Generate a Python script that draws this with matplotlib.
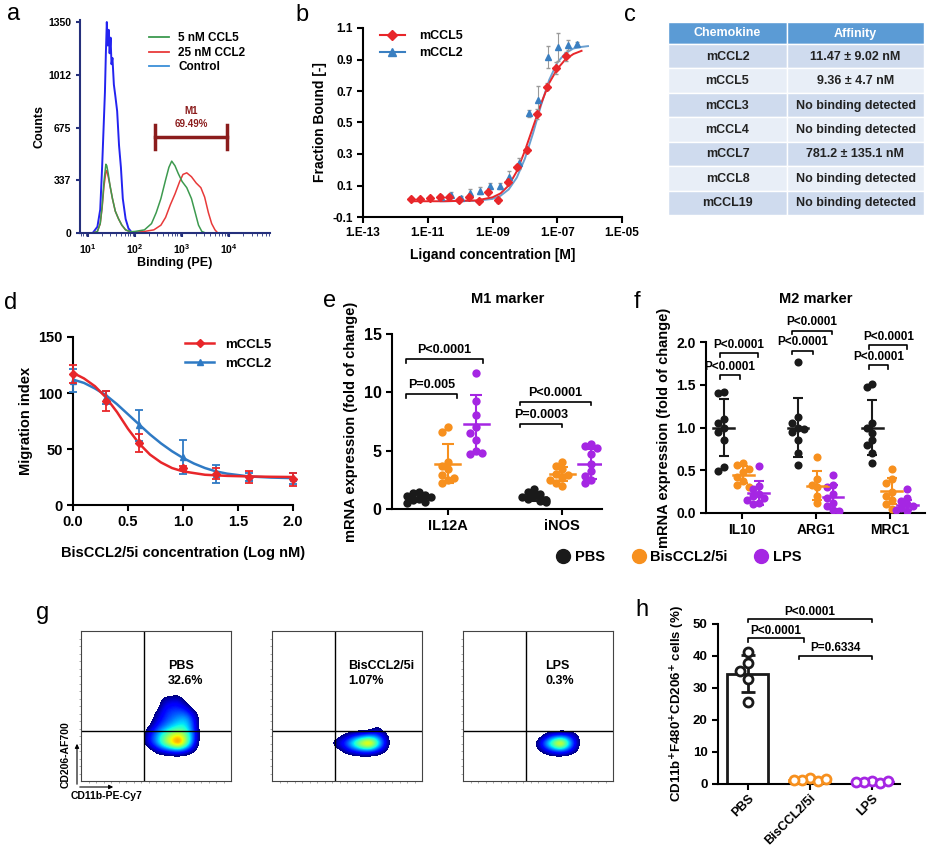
import numpy as np
import matplotlib
matplotlib.use('Agg')
import matplotlib.pyplot as plt
import matplotlib.ticker as mticker
from matplotlib.lines import Line2D
from matplotlib.patches import Rectangle

# ---------------- a: binding histograms (log10 of PE, counts) ----------------
ctrl_logx = [1.10, 1.20, 1.26, 1.30, 1.33, 1.36, 1.38, 1.40, 1.42, 1.44, 1.46, 1.48, 1.50,
             1.52, 1.55, 1.58, 1.62, 1.66, 1.70, 1.74, 1.80, 1.86, 1.94, 2.05]
ctrl_counts = [0, 40, 150, 420, 660, 900, 1150, 1350, 1200, 1300, 1150, 1250, 1080,
               1120, 950, 880, 780, 560, 420, 220, 90, 30, 0, 0]
ccl5_logx = [1.10, 1.20, 1.26, 1.30, 1.34, 1.38, 1.40, 1.43, 1.47, 1.52, 1.58, 1.65, 1.72,
             1.80, 1.90, 2.00, 2.20, 2.35, 2.45, 2.55, 2.65, 2.72, 2.78, 2.85, 2.92, 3.00,
             3.10, 3.20, 3.28, 3.35, 3.42, 3.50]
ccl5_counts = [0, 10, 60, 170, 330, 440, 430, 380, 300, 220, 140, 90, 50,
               20, 8, 10, 20, 60, 130, 220, 340, 420, 460, 430, 380, 330,
               290, 220, 130, 50, 10, 0]
ccl2_logx = [1.10, 1.20, 1.26, 1.30, 1.34, 1.38, 1.40, 1.43, 1.47, 1.52, 1.58, 1.65, 1.72,
             1.80, 1.90, 2.00, 2.20, 2.40, 2.55, 2.65, 2.75, 2.85, 2.95, 3.02, 3.10, 3.20,
             3.30, 3.40, 3.48, 3.56, 3.63, 3.70, 3.76]
ccl2_counts = [0, 10, 60, 160, 300, 390, 400, 360, 300, 220, 140, 90, 50,
               20, 8, 5, 10, 20, 50, 100, 180, 250, 330, 375, 385, 360,
               320, 290, 230, 130, 60, 20, 0]
a_yticks = [0, 337, 675, 1012, 1350]
m1_gate = [270, 9000]
m1_level = 614

# ---------------- b: MST binding ----------------
mccl5_b_logc = [-11.53, -11.23, -10.93, -10.63, -10.33, -10.03, -9.73, -9.43, -9.13,
                -8.83, -8.53, -8.23, -7.93, -7.63, -7.33, -7.03, -6.73]
mccl5_b_fb = [0.015, 0.012, 0.02, 0.03, 0.027, 0.01, 0.027, 0.004, 0.057,
              0.01, 0.123, 0.218, 0.327, 0.554, 0.728, 0.847, 0.92]
mccl5_b_err = [0.01, 0.01, 0.015, 0.01, 0.01, 0.01, 0.015, 0.01, 0.01,
               0.02, 0.02, 0.015, 0.02, 0.03, 0.02, 0.04, 0.03]
mccl2_b_logc = [-10.58, -10.28, -9.98, -9.68, -9.38, -9.08, -8.78, -8.48, -8.18,
                -7.88, -7.58, -7.28, -6.98, -6.68, -6.38]
mccl2_b_fb = [0.027, 0.042, 0.021, 0.055, 0.068, 0.097, 0.097, 0.155, 0.24,
              0.558, 0.643, 0.915, 0.979, 0.992, 0.998]
mccl2_b_err = [0.01, 0.015, 0.01, 0.025, 0.02, 0.02, 0.02, 0.035, 0.035,
               0.02, 0.09, 0.07, 0.09, 0.03, 0.01]
mccl5_fit_logc = [-11.5, -10.5, -9.5, -9.0, -8.75, -8.5, -8.25, -8.0, -7.75, -7.5,
                  -7.25, -7.0, -6.75, -6.5, -6.25]
mccl5_fit_fb = [0.0, 0.0, 0.005, 0.025, 0.05, 0.10, 0.19, 0.32, 0.47, 0.62,
                0.75, 0.84, 0.90, 0.935, 0.955]
mccl2_fit_logc = [-10.6, -9.5, -9.0, -8.75, -8.5, -8.25, -8.0, -7.75, -7.5, -7.25,
                  -7.0, -6.75, -6.5, -6.25, -6.05]
mccl2_fit_fb = [0.0, 0.003, 0.015, 0.035, 0.075, 0.15, 0.27, 0.43, 0.61, 0.77,
                0.88, 0.94, 0.97, 0.98, 0.985]

# ---------------- c: affinity table ----------------
chemokines = ['mCCL2', 'mCCL5', 'mCCL3', 'mCCL4', 'mCCL7', 'mCCL8', 'mCCL19']
affinities = ['11.47 ± 9.02 nM', '9.36 ± 4.7 nM', 'No binding detected', 'No binding detected',
              '781.2 ± 135.1 nM', 'No binding detected', 'No binding detected']

# ---------------- d: migration ----------------
d_conc = [0.0, 0.3, 0.6, 1.0, 1.3, 1.6, 2.0]
mccl5_mig = [117, 93, 55, 33, 28, 25, 23]
mccl5_mig_err = [8, 9, 8, 2, 5, 5, 6]
mccl2_mig = [111, 96, 71, 43, 28, 25, 24]
mccl2_mig_err = [10, 6, 14, 15, 8, 4, 5]
d_fit_conc = [0.0, 0.1, 0.2, 0.3, 0.4, 0.5, 0.6, 0.7, 0.8, 0.9, 1.0, 1.1, 1.2, 1.3,
              1.4, 1.6, 1.8, 2.0]
mccl5_fit_mig = [118, 113, 106, 96, 83, 68, 55, 45, 38, 33, 30, 28.5, 27, 26.5,
                 26, 25.5, 25.2, 25]
mccl2_fit_mig = [112, 109, 104, 98, 90, 81, 72, 63, 55, 48, 42, 37, 33, 30,
                 28, 25.5, 24.5, 24]

# ---------------- e: M1 markers ----------------
m1_genes = ['IL12A', 'iNOS']
m1_pbs = [[1.5, 1.4, 1.2, 1.1, 1.0, 0.9, 0.8, 0.6, 0.5],
          [1.7, 1.5, 1.3, 1.1, 1.0, 0.9, 0.7, 0.6, 0.8]]
m1_bis = [[7.0, 6.6, 4.0, 3.7, 3.4, 2.9, 2.5, 2.2, 2.7],
          [4.0, 3.7, 3.4, 3.0, 2.9, 2.7, 2.5, 2.2, 2.0]]
m1_lps = [[11.7, 9.3, 8.1, 7.0, 6.5, 5.9, 5.0, 4.7, 4.8],
          [5.6, 5.4, 5.2, 4.7, 3.9, 3.3, 2.8, 2.5, 2.2]]
m1_mean = [[1.0, 3.9, 7.25], [1.0, 3.0, 3.85]]
m1_sd = [[0.35, 1.7, 2.5], [0.35, 0.6, 1.3]]

# ---------------- f: M2 markers ----------------
m2_genes = ['IL10', 'ARG1', 'MRC1']
m2_pbs = [[1.42, 1.40, 1.10, 1.05, 1.0, 0.95, 0.85, 0.54, 0.49],
          [1.77, 1.12, 1.05, 1.0, 0.98, 0.95, 0.85, 0.70, 0.56],
          [1.51, 1.47, 1.05, 1.0, 0.93, 0.85, 0.80, 0.70, 0.58]]
m2_bis = [[0.58, 0.56, 0.52, 0.48, 0.42, 0.37, 0.33, 0.30],
          [0.65, 0.40, 0.33, 0.30, 0.20, 0.12],
          [0.52, 0.40, 0.35, 0.25, 0.20, 0.15, 0.10, 0.05]]
m2_lps = [[0.55, 0.32, 0.28, 0.22, 0.20, 0.18, 0.15, 0.12, 0.10],
          [0.45, 0.33, 0.30, 0.22, 0.18, 0.12, 0.08, 0.03, 0.02],
          [0.28, 0.18, 0.14, 0.10, 0.08, 0.06, 0.04, 0.02]]
m2_mean = [[1.0, 0.45, 0.23], [1.0, 0.32, 0.19], [1.0, 0.26, 0.09]]
m2_sd = [[0.33, 0.10, 0.14], [0.34, 0.17, 0.14], [0.32, 0.15, 0.06]]

# ---------------- g: flow density (rows y=60..15, cols x=35..80) ----------------
g_names = ['PBS', 'BisCCL2/5i', 'LPS']
g_pct = ['32.6%', '1.07%', '0.3%']
pbs_density = [[0, 0, 0, 0, 0, 0, 0, 0, 0, 0],
               [0, 0, 0, 0, 0.1, 0.12, 0.15, 0, 0, 0],
               [0, 0, 0, 0, 0.18, 0.22, 0.22, 0.15, 0, 0],
               [0, 0, 0, 0.1, 0.22, 0.28, 0.3, 0.3, 0.15, 0],
               [0, 0, 0, 0.15, 0.25, 0.32, 0.4, 0.42, 0.25, 0],
               [0, 0, 0.1, 0.25, 0.35, 0.45, 0.5, 0.48, 0.25, 0],
               [0, 0, 0.2, 0.35, 0.55, 0.7, 0.8, 0.6, 0.3, 0],
               [0, 0, 0.2, 0.35, 0.6, 0.8, 1.0, 0.65, 0.25, 0],
               [0, 0, 0, 0.12, 0.2, 0.25, 0.28, 0.2, 0.1, 0],
               [0, 0, 0, 0, 0, 0, 0, 0, 0, 0]]
bis_density = [[0] * 10, [0] * 10, [0] * 10, [0] * 10, [0] * 10,
               [0, 0, 0, 0, 0, 0, 0, 0.12, 0, 0],
               [0, 0, 0.05, 0.12, 0.2, 0.25, 0.3, 0.28, 0.15, 0],
               [0, 0.1, 0.2, 0.35, 0.6, 0.85, 1.0, 0.6, 0.25, 0],
               [0, 0, 0.05, 0.15, 0.22, 0.28, 0.28, 0.2, 0.1, 0],
               [0] * 10]
lps_density = [[0] * 10, [0] * 10, [0] * 10, [0] * 10, [0] * 10, [0] * 10,
               [0, 0, 0, 0, 0.12, 0.2, 0.22, 0.22, 0.12, 0],
               [0, 0, 0, 0.15, 0.4, 0.7, 1.0, 0.55, 0.2, 0],
               [0, 0, 0, 0.05, 0.15, 0.25, 0.28, 0.22, 0.1, 0],
               [0] * 10]

# ---------------- h: CD206+ macrophages ----------------
h_groups = ['PBS', 'BisCCL2/5i', 'LPS']
h_points = [[41.3, 37.7, 35.3, 32.7, 25.5],
            [1.8, 1.2, 1.0, 1.3, 1.5],
            [0.9, 0.5, 0.2, 0.5, 0.9]]
h_mean = [34.5, 1.3, 0.6]
h_sd = [5.9, 0.3, 0.3]

# colours
RED = '#e8262a'
BLUE = '#3a7fc1'
BLK = '#1a1a1a'
ORG = '#f7901e'
PUR = '#a526e3'
treat_cols = [BLK, ORG, PUR]

plt.rcParams['font.family'] = ['Liberation Sans', 'DejaVu Sans']
plt.rcParams['font.weight'] = 'bold'
plt.rcParams['axes.labelweight'] = 'bold'
plt.rcParams['axes.linewidth'] = 1.5
plt.rcParams['xtick.major.width'] = 1.5
plt.rcParams['ytick.major.width'] = 1.5
plt.rcParams['mathtext.default'] = 'bf'

W, H = 931, 848
fig = plt.figure(figsize=(W / 100, H / 100), dpi=100)


def add_ax(l, t, r, b):
    return fig.add_axes([l / W, 1 - b / H, (r - l) / W, (b - t) / H])


def clean(ax):
    ax.spines['top'].set_visible(False)
    ax.spines['right'].set_visible(False)


def swarm(vals, xpx, ypx, step):
    # simple beeswarm: offsets in data units so dots do not pile up exactly
    placed, offs = [], []
    for v in vals:
        dx = 0
        for k in [0, -1, 1, -2, 2]:
            dx = k * step
            if all((dx - p) ** 2 + ((v - pv) * ypx) ** 2 >= step ** 2 for p, pv in placed):
                break
        placed.append((dx, v))
        offs.append(dx / xpx)
    return np.array(offs)


def bracket(ax, x1, x2, y, drop, text, fs, gap):
    ax.plot([x1, x1, x2, x2], [y - drop, y, y, y - drop], color='black', lw=1.2, clip_on=False)
    ax.text((x1 + x2) / 2, y + gap, text, ha='center', va='bottom', fontsize=fs,
            fontweight='bold')


# ===== a =====
NAVY = '#25307c'
ax = add_ax(80, 20, 270, 233)
ax.set_xscale('log')
ax.plot(10 ** np.array(ctrl_logx), ctrl_counts, color='#2323f0', lw=1.4)
ax.plot(10 ** np.array(ccl2_logx), ccl2_counts, color='#e83a3a', lw=1.1)
ax.plot(10 ** np.array(ccl5_logx), ccl5_counts, color='#3d9a4f', lw=1.1)
ax.set_xlim(10 ** 0.83, 10 ** 4.87)
ax.set_ylim(0, 1363)
ax.set_yticks(a_yticks)
clean(ax)
for s in ['left', 'bottom']:
    ax.spines[s].set_color(NAVY)
ax.tick_params(colors=NAVY, labelcolor='black', labelsize=7.5, length=3)
ax.tick_params(axis='x', which='minor', colors=NAVY, length=2)
ax.plot(m1_gate, [m1_level, m1_level], color='#8b1c1c', lw=2.5)
for gx in m1_gate:
    ax.plot([gx, gx], [m1_level - 75, m1_level + 75], color='#8b1c1c', lw=2.5)
gmid = np.sqrt(m1_gate[0] * m1_gate[1])
ax.text(gmid, 780, 'M1', color='#8b1c1c', fontsize=7, ha='center', va='center')
ax.text(gmid, 700, '69.49%', color='#8b1c1c', fontsize=7, ha='center', va='center')
a_handles = [Line2D([], [], color='#3d9a4f', lw=1.3), Line2D([], [], color='#e83a3a', lw=1.3),
             Line2D([], [], color='#3a8fd8', lw=1.3)]
ax.legend(a_handles, ['5 nM CCL5', '25 nM CCL2', 'Control'], loc='upper left',
          bbox_to_anchor=(0.33, 0.97), frameon=False, fontsize=8.5, handlelength=1.7,
          handletextpad=0.8, labelspacing=0.2, borderpad=0)
ax.set_ylabel('Counts', fontsize=9, labelpad=2)
ax.set_xlabel('Binding (PE)', fontsize=9, labelpad=1)

# ===== b =====
ax = add_ax(363, 28, 622, 217)
ax.set_xscale('log')
ax.errorbar(10 ** np.array(mccl2_b_logc), mccl2_b_fb, yerr=mccl2_b_err, fmt='^', color=BLUE,
            ms=5, ecolor='#9a9a9a', elinewidth=0.8, capsize=1.5, zorder=3)
ax.errorbar(10 ** np.array(mccl5_b_logc), mccl5_b_fb, yerr=mccl5_b_err, fmt='D', color=RED,
            ms=4, ecolor='#9a9a9a', elinewidth=0.8, capsize=1.5, zorder=3)
ax.plot(10 ** np.array(mccl2_fit_logc), mccl2_fit_fb, color='#6a9fd0', lw=1.4)
ax.plot(10 ** np.array(mccl5_fit_logc), mccl5_fit_fb, color=RED, lw=1.4)
ax.set_xlim(1e-13, 1e-5)
ax.set_ylim(-0.1, 1.1)
ax.set_xticks([1e-13, 1e-11, 1e-9, 1e-7, 1e-5])
ax.set_xticklabels(['1.E-13', '1.E-11', '1.E-09', '1.E-07', '1.E-05'])
ax.xaxis.set_minor_locator(mticker.NullLocator())
ax.set_yticks(np.arange(-0.1, 1.11, 0.2))
ax.yaxis.set_major_formatter(mticker.FormatStrFormatter('%.1f'))
ax.tick_params(labelsize=8.5, length=4)
clean(ax)
b_handles = [Line2D([], [], color=RED, marker='D', ms=5), Line2D([], [], color=BLUE, marker='^', ms=6)]
ax.legend(b_handles, ['mCCL5', 'mCCL2'], loc='upper left', bbox_to_anchor=(0.04, 1.02),
          frameon=False, fontsize=9, handlelength=2.0, handletextpad=1.2, labelspacing=0.4,
          borderpad=0)
ax.set_ylabel('Fraction Bound [-]', fontsize=10)
ax.set_xlabel('Ligand concentration [M]', fontsize=10, labelpad=6)

# ===== c =====
ax = add_ax(668, 22, 924, 215)
ax.set_xlim(0, 256)
ax.set_ylim(193, 0)
ax.axis('off')
col_w = [119, 137]
head_h = 22
row_h = (193 - head_h) / len(chemokines)
xs = [0, col_w[0]]
for j, lab in enumerate(['Chemokine', 'Affinity']):
    ax.add_patch(Rectangle((xs[j], 0), col_w[j], head_h, fc='#5b9bd5', ec='white', lw=1))
    ax.text(xs[j] + col_w[j] / 2, head_h / 2 + 0.5, lab, color='white', fontsize=9,
            ha='center', va='center')
for i, (ck, af) in enumerate(zip(chemokines, affinities)):
    y0 = head_h + i * row_h
    fc = '#cfdbee' if i % 2 == 0 else '#e8eef7'
    for j, txt in enumerate([ck, af]):
        ax.add_patch(Rectangle((xs[j], y0), col_w[j], row_h, fc=fc, ec='white', lw=1))
        ax.text(xs[j] + col_w[j] / 2, y0 + row_h / 2 + 0.5, txt, color='#222222', fontsize=9,
                ha='center', va='center')

# ===== d =====
ax = add_ax(73, 337, 293, 505)
ax.plot(d_fit_conc, mccl2_fit_mig, color='#2f7ac4', lw=1.8)
ax.plot(d_fit_conc, mccl5_fit_mig, color=RED, lw=1.8)
ax.errorbar(d_conc, mccl2_mig, yerr=mccl2_mig_err, fmt='^', color='#2f7ac4', ms=5,
            capsize=3, elinewidth=1.3, capthick=1.3, clip_on=False, zorder=3)
ax.errorbar(d_conc, mccl5_mig, yerr=mccl5_mig_err, fmt='D', color=RED, ms=4,
            capsize=3, elinewidth=1.3, capthick=1.3, clip_on=False, zorder=4)
ax.set_xlim(0, 2)
ax.set_ylim(0, 150)
ax.set_xticks([0, 0.5, 1.0, 1.5, 2.0])
ax.xaxis.set_major_formatter(mticker.FormatStrFormatter('%.1f'))
ax.set_yticks([0, 50, 100, 150])
ax.tick_params(labelsize=10.5, length=4)
clean(ax)
d_handles = [Line2D([], [], color=RED, marker='D', ms=4.5, lw=1.8),
             Line2D([], [], color='#2f7ac4', marker='^', ms=5, lw=1.8)]
ax.legend(d_handles, ['mCCL5', 'mCCL2'], loc='upper left', bbox_to_anchor=(0.48, 1.03),
          frameon=False, fontsize=9.5, handlelength=2.2, handletextpad=0.8, labelspacing=0.5,
          borderpad=0)
ax.set_ylabel('Migration index', fontsize=10.5)
ax.set_xlabel('BisCCL2/5i concentration (Log nM)', fontsize=10.5, labelpad=12)

# ===== e =====
ax = add_ax(392, 334, 602, 509)
offs3 = [-0.25, 0.0, 0.25]
for gi in range(len(m1_genes)):
    for ti, pts in enumerate([m1_pbs[gi], m1_bis[gi], m1_lps[gi]]):
        xc = gi + offs3[ti]
        col = treat_cols[ti]
        dx = swarm(pts, 114, 11.67, 6)
        ax.scatter(xc + dx, pts, s=36, color=col, zorder=3, lw=0)
        ax.errorbar(xc, m1_mean[gi][ti], yerr=m1_sd[gi][ti], color=col, capsize=4,
                    elinewidth=1.5, capthick=1.5, zorder=4)
        ax.plot([xc - 0.11, xc + 0.11], [m1_mean[gi][ti]] * 2, color=col, lw=1.8, zorder=4)
ax.set_xlim(-0.49, 1.35)
ax.set_ylim(0, 15)
ax.set_yticks([0, 5, 10, 15])
ax.set_xticks(range(len(m1_genes)))
ax.set_xticklabels(m1_genes)
ax.tick_params(labelsize=10.5, length=4)
ax.tick_params(axis='y', labelsize=11.5)
clean(ax)
bracket(ax, -0.37, 0.08, 9.85, 0.3, 'P=0.005', 9, 0.25)
bracket(ax, -0.37, 0.31, 12.85, 0.3, 'P<0.0001', 9, 0.25)
bracket(ax, 0.63, 1.0, 7.3, 0.3, 'P=0.0003', 9, 0.25)
bracket(ax, 0.63, 1.25, 9.2, 0.3, 'P<0.0001', 9, 0.25)
ax.text(0.55, 1.2, 'M1 marker', transform=ax.transAxes, ha='center', va='center', fontsize=10.5)
ax.set_ylabel('mRNA expression (fold of change)', fontsize=10.5)

# ===== f =====
ax = add_ax(706, 342, 925, 513)
offs3f = [-0.24, 0.02, 0.23]
for gi in range(len(m2_genes)):
    for ti, pts in enumerate([m2_pbs[gi], m2_bis[gi], m2_lps[gi]]):
        xc = gi + offs3f[ti]
        col = treat_cols[ti]
        dx = swarm(pts, 77, 85.5, 6)
        ax.scatter(xc + dx, pts, s=34, color=col, zorder=3, lw=0)
        ax.errorbar(xc, m2_mean[gi][ti], yerr=m2_sd[gi][ti], color=col, capsize=3.5,
                    elinewidth=1.5, capthick=1.5, zorder=4)
        ax.plot([xc - 0.14, xc + 0.14], [m2_mean[gi][ti]] * 2, color=col, lw=1.8, zorder=4)
ax.set_xlim(-0.48, 2.47)
ax.set_ylim(0, 2)
ax.set_yticks([0, 0.5, 1.0, 1.5, 2.0])
ax.yaxis.set_major_formatter(mticker.FormatStrFormatter('%.1f'))
ax.set_xticks(range(len(m2_genes)))
ax.set_xticklabels(m2_genes)
ax.tick_params(labelsize=10, length=4)
clean(ax)
bracket(ax, -0.29, -0.02, 1.61, 0.04, 'P<0.0001', 8.5, 0.03)
bracket(ax, -0.29, 0.22, 1.87, 0.04, 'P<0.0001', 8.5, 0.03)
bracket(ax, 0.68, 0.96, 1.90, 0.04, 'P<0.0001', 8.5, 0.03)
bracket(ax, 0.68, 1.22, 2.13, 0.04, 'P<0.0001', 8.5, 0.03)
bracket(ax, 1.72, 1.97, 1.73, 0.04, 'P<0.0001', 8.5, 0.03)
bracket(ax, 1.72, 2.23, 1.96, 0.04, 'P<0.0001', 8.5, 0.03)
ax.text(0.5, 1.25, 'M2 marker', transform=ax.transAxes, ha='center', va='center', fontsize=10.5)
ax.set_ylabel('mRNA expression (fold of change)', fontsize=10.5)

# legend for e/f
ef_handles = [Line2D([], [], marker='o', ls='', color=c, ms=10) for c in treat_cols]
fig.legend(ef_handles, ['PBS', 'BisCCL2/5i', 'LPS'], loc='center left',
           bbox_to_anchor=(543 / W, 1 - 557 / H), ncol=3, frameon=False, fontsize=10.5,
           handletextpad=0.3, columnspacing=1.8, handlelength=1.0)

# ===== g =====
jet = plt.get_cmap('jet').copy()
jet.set_under((1, 1, 1, 0))
g_boxes = [(81, 631, 231, 781), (272, 631, 422, 781), (463, 631, 613, 781)]
g_text_x = [58, 51, 55]
for k, dens in enumerate([pbs_density, bis_density, lps_density]):
    ax = add_ax(*g_boxes[k])
    ax.imshow(np.array(dens, dtype=float), extent=(32.5, 82.5, 12.5, 62.5), origin='upper',
              cmap=jet, vmin=0.08, vmax=1.1, interpolation='bicubic', aspect='auto')
    ax.set_xlim(0, 100)
    ax.set_ylim(0, 100)
    ax.axvline(42, color='black', lw=1)
    ax.axhline(33.3, color='black', lw=1)
    for s in ax.spines.values():
        s.set_linewidth(0.8)
        s.set_color('#444444')
    ax.set_xticks(np.arange(5, 100, 5))
    ax.set_yticks(np.arange(5, 100, 5))
    ax.tick_params(length=1.5, width=0.5, colors='#888888', labelleft=False, labelbottom=False)
    ax.text(g_text_x[k], 76.7, g_names[k], fontsize=9, ha='left', va='center')
    ax.text(g_text_x[k], 66.7, g_pct[k], fontsize=9, ha='left', va='center')

# ===== h =====
ax = add_ax(718, 624, 900, 784)
hx = np.arange(len(h_groups))
ax.bar(hx, h_mean, width=0.66, color='white', edgecolor=treat_cols, lw=2, zorder=2)
for gi, pts in enumerate(h_points):
    ax.errorbar(hx[gi], h_mean[gi], yerr=h_sd[gi], fmt='none', ecolor=treat_cols[gi],
                capsize=5, elinewidth=2, capthick=2, zorder=3)
    dx = swarm(pts, 62, 3.2, 8)
    ax.scatter(gi + dx, pts, s=42, facecolor='white', edgecolor=treat_cols[gi], lw=2,
               zorder=4, clip_on=False)
ax.set_xlim(-0.48, 2.45)
ax.set_ylim(0, 50)
ax.set_yticks([0, 10, 20, 30, 40, 50])
ax.set_xticks(hx)
ax.set_xticklabels(h_groups, rotation=45, ha='right', rotation_mode='anchor')
ax.tick_params(labelsize=9.5, length=4)
ax.tick_params(axis='x', labelsize=9, pad=2)
clean(ax)
bracket(ax, 0, 2, 51.6, 1.0, 'P<0.0001', 8.5, 0.4)
bracket(ax, 0, 0.9, 45.5, 1.0, 'P<0.0001', 8.5, 0.4)
bracket(ax, 0.82, 2, 40.1, 1.0, 'P=0.6334', 8.5, 0.4)
ax.set_ylabel('CD11b$^{+}$F480$^{+}$CD206$^{+}$ cells (%)', fontsize=9.5)

# ===== overlay: panel letters and g axis labels =====
ov = fig.add_axes([0, 0, 1, 1], zorder=10)
ov.set_xlim(0, W)
ov.set_ylim(H, 0)
ov.axis('off')
for lab, x, y in [('a', 14, 14), ('b', 302, 15), ('c', 630, 15), ('d', 11, 303),
                  ('e', 330, 301), ('f', 637, 302), ('g', 43, 613), ('h', 642, 610)]:
    ov.text(x, y, lab, fontsize=17, fontweight='normal', ha='center', va='center')
ov.text(66, 755, 'CD206-AF700', rotation=90, fontsize=7.5, ha='center', va='center')
ov.text(107, 796, 'CD11b-PE-Cy7', fontsize=7.5, ha='center', va='center')
ov.annotate('', xy=(77, 741), xytext=(77, 787),
            arrowprops=dict(arrowstyle='-|>', lw=0.8, color='black', mutation_scale=6))
ov.annotate('', xy=(116, 787), xytext=(77, 787),
            arrowprops=dict(arrowstyle='-|>', lw=0.8, color='black', mutation_scale=6))

fig.savefig('out.png', dpi=100)
